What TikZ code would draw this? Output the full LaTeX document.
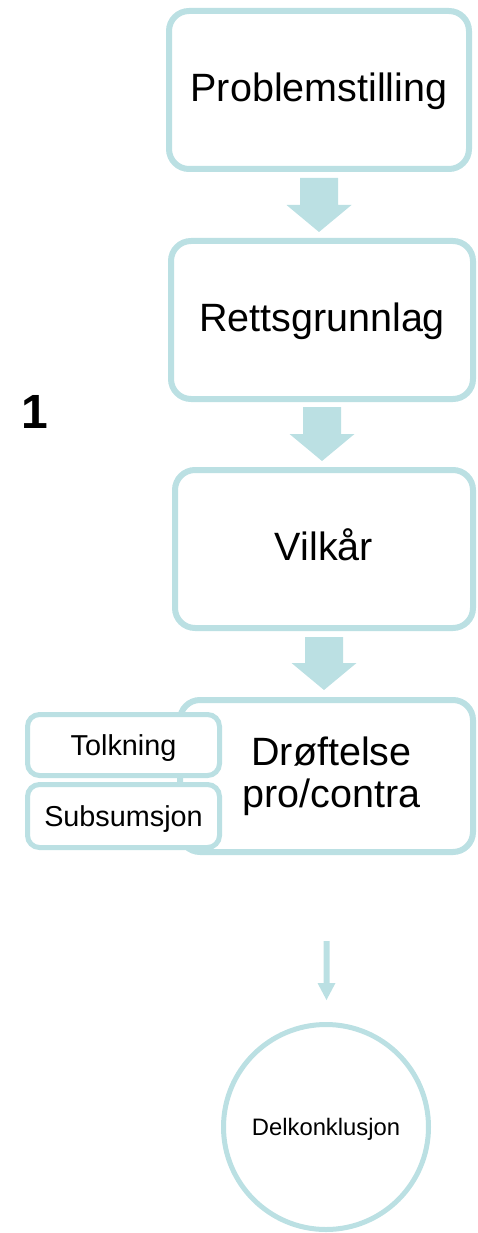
\documentclass[tikz,border=0pt]{standalone}
\usepackage{fontspec}
\setmainfont{Liberation Sans}
\usetikzlibrary{calc}
\definecolor{tealc}{RGB}{187,224,227}
\newcommand\fatarrow[5]{\fill[tealc] let \p1=(#1), \p2=(#2) in
  (\x1-#3/2,\y1) -- (\x1+#3/2,\y1) -- (\x1+#3/2,\y2+#5) -- (\x1+#4/2,\y2+#5)
  -- (\x1,\y2) -- (\x1-#4/2,\y2+#5) -- (\x1-#3/2,\y2+#5) -- cycle;}
\begin{document}
\begin{tikzpicture}[x=1pt,y=-1pt,
  bigbox/.style={draw=tealc,line width=6pt,rounded corners=20pt,fill=white,
    align=center,font=\fontsize{39.5}{42}\selectfont,inner sep=0pt},
  onebox/.style={bigbox,text height=28pt,text depth=5pt},
  smallbox/.style={draw=tealc,line width=5pt,rounded corners=12pt,fill=white,
    font=\fontsize{28.8}{32}\selectfont,text height=21pt,text depth=0pt,
    inner sep=0pt,minimum width=192pt},
  roundbox/.style={draw=tealc,line width=5pt,circle,fill=white,inner sep=0pt,
    minimum size=205pt,font=\fontsize{23.8}{26}\selectfont,text height=17pt,text depth=0pt}]
\useasboundingbox (0,0) rectangle (477,1233);

\node[onebox,minimum width=300pt,minimum height=158pt] (b1) at (319,90) {Problemstilling};
\node[onebox,minimum width=302pt,minimum height=158pt] (b2) at (322,320) {Rettsgrunnlag};
\node[onebox,minimum width=298pt,minimum height=158pt] (b3) at (324,549) {Vilkår};
\node[bigbox,minimum width=293pt,minimum height=152pt] (b4) at (326.5,776) {\hspace*{10pt}Drøftelse\\\hspace*{10pt}pro/contra};
\node[smallbox,minimum height=61pt] (t) at (123.5,745) {Tolkning};
\node[smallbox,minimum height=63pt] (s) at (123.5,816) {Subsumsjon};
\node[roundbox] (c) at (326,1127) {Delkonklusjon};

\node[anchor=base,font=\fontsize{48}{50}\selectfont\bfseries] (one) at (35,428) {1};

\fatarrow{$(b1.south)+(0,6)$}{$(b2.north)+(0,-6)$}{38pt}{65pt}{27pt}
\fatarrow{$(b2.south)+(0,5)$}{$(b3.north)+(0,-6)$}{38pt}{65pt}{27pt}
\fatarrow{$(b3.south)+(0,6)$}{$(b4.north)+(0,-7)$}{38pt}{65pt}{27pt}
\fatarrow{$(b4.south)+(0,86)$}{$(c.north)+(0,-22)$}{6pt}{18pt}{17pt}
\end{tikzpicture}
\end{document}
